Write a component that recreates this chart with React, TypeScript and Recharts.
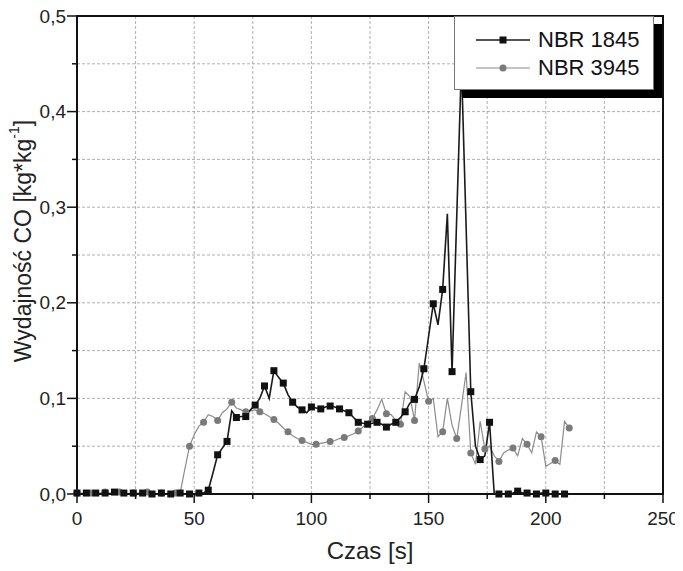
import { LineChart, Line, XAxis, YAxis, CartesianGrid, Legend, ReferenceArea } from 'recharts';

const FONT = '"Liberation Sans", Arial, sans-serif';

// czas [s], co 2 s
const czas = [
  0, 2, 4, 6, 8, 10, 12, 14, 16, 18, 20, 22, 24, 26, 28, 30, 32, 34, 36, 38,
  40, 42, 44, 46, 48, 50, 52, 54, 56, 58, 60, 62, 64, 66, 68, 70, 72, 74, 76, 78,
  80, 82, 84, 86, 88, 90, 92, 94, 96, 98, 100, 102, 104, 106, 108, 110, 112, 114, 116, 118,
  120, 122, 124, 126, 128, 130, 132, 134, 136, 138, 140, 142, 144, 146, 148, 150, 152, 154, 156, 158,
  160, 162, 164, 166, 168, 170, 172, 174, 176, 178, 180, 182, 184, 186, 188, 190, 192, 194, 196, 198,
  200, 202, 204, 206, 208, 210,
];

const nbr1845 = [
  0.001, 0, 0.001, 0, 0.001, 0, 0.001, 0, 0.002, 0.001, 0.001, 0, 0.001, 0, 0.001, 0.001, 0, 0, 0.001, 0,
  0, 0, 0.001, 0, 0, 0, 0.001, 0.001, 0.004, 0.022, 0.041, 0.048, 0.055, 0.087, 0.08, 0.081, 0.081, 0.088, 0.093, 0.1,
  0.113, 0.1, 0.129, 0.122, 0.116, 0.104, 0.096, 0.091, 0.088, 0.085, 0.091, 0.09, 0.089, 0.091, 0.092, 0.091, 0.089, 0.087, 0.085, 0.08,
  0.075, 0.074, 0.073, 0.074, 0.075, 0.073, 0.07, 0.073, 0.075, 0.08, 0.086, 0.095, 0.099, 0.112, 0.131, 0.165, 0.199, 0.177, 0.214, 0.293,
  0.128, 0.29, 0.45, 0.28, 0.107, 0.05, 0.036, 0.04, 0.075, 0, 0, 0, 0, 0.001, 0.003, 0.001, 0.001, 0, 0, 0.001,
  0.001, 0, 0, 0, 0, null,
];

const nbr3945 = [
  0.001, 0.001, 0, 0.001, 0, 0.001, 0.002, 0.001, 0, 0.002, 0.001, 0, 0.001, 0.001, 0, 0.002, 0.001, 0, 0.001, 0,
  0, 0.001, 0.001, 0.026, 0.05, 0.062, 0.071, 0.075, 0.083, 0.081, 0.077, 0.085, 0.089, 0.096, 0.09, 0.088, 0.086, 0.087, 0.088, 0.086,
  0.084, 0.081, 0.078, 0.074, 0.069, 0.065, 0.061, 0.058, 0.056, 0.054, 0.052, 0.052, 0.053, 0.054, 0.055, 0.056, 0.058, 0.059, 0.061, 0.063,
  0.066, 0.07, 0.076, 0.079, 0.088, 0.099, 0.084, 0.083, 0.077, 0.073, 0.107, 0.102, 0.077, 0.137, 0.118, 0.097, 0.1, 0.06, 0.065, 0.1,
  0.072, 0.058, 0.092, 0.127, 0.043, 0.031, 0.076, 0.047, 0.05, 0.04, 0.034, 0.043, 0.046, 0.048, 0.04, 0.058, 0.052, 0.043, 0.065, 0.06,
  0.029, 0.032, 0.035, 0.031, 0.076, 0.069,
];

const xTicks = [0, 25, 50, 75, 100, 125, 150, 175, 200, 225, 250];
const yTicks = [0, 0.05, 0.1, 0.15, 0.2, 0.25, 0.3, 0.35, 0.4, 0.45, 0.5];

const data = czas.map((t, i) => ({ t, nbr1845: nbr1845[i], nbr3945: nbr3945[i] }));

const XTick = (props: any) => {
  const { x, y, payload } = props;
  const major = payload.value % 50 === 0;
  return (
    <g>
      <line x1={x} x2={x} y1={y} y2={y + (major ? 9 : 5)} stroke="#111" strokeWidth={1.5} />
      {major && (
        <text x={x} y={y + 24} textAnchor="middle" dominantBaseline="central" fontSize={19} fontFamily={FONT} fill="#222">
          {payload.value}
        </text>
      )}
    </g>
  );
};

const YTick = (props: any) => {
  const { x, y, payload } = props;
  const major = Math.round(payload.value * 20) % 2 === 0;
  return (
    <g>
      <line x1={x} x2={x - (major ? 10 : 5)} y1={y} y2={y} stroke="#111" strokeWidth={1.5} />
      {major && (
        <text x={x - 11} y={y} textAnchor="end" dominantBaseline="central" fontSize={19} fontFamily={FONT} fill="#222">
          {payload.value.toFixed(1).replace('.', ',')}
        </text>
      )}
    </g>
  );
};

const squareDot = (props: any) => {
  const { cx, cy, payload, index } = props;
  if (cy == null || payload.t % 4 !== 0) return <g key={`s${index}`} />;
  return <rect key={`s${index}`} x={cx - 3.5} y={cy - 3.5} width={7} height={7} fill="#111" />;
};

const circleDot = (props: any) => {
  const { cx, cy, payload, index } = props;
  if (cy == null || payload.t % 6 !== 0) return <g key={`c${index}`} />;
  return <circle key={`c${index}`} cx={cx} cy={cy} r={3.5} fill="#7a7a7a" />;
};

const renderLegend = (props: any) => (
  <div
    style={{
      boxSizing: 'border-box',
      width: 200,
      height: 74,
      background: '#fff',
      border: '1px solid #777',
      boxShadow: '8px 8px 0 #000',
      padding: '9px 0 0 21px',
      fontFamily: FONT,
      fontSize: 22,
      color: '#111',
    }}
  >
    {props.payload.map((entry: any) => (
      <div key={entry.value} style={{ display: 'flex', alignItems: 'center', height: 28 }}>
        <svg width={54} height={14}>
          <line x1={0} x2={54} y1={7} y2={7} stroke={entry.color} strokeWidth={entry.dataKey === 'nbr1845' ? 1.6 : 1.2} />
          {entry.dataKey === 'nbr1845' ? (
            <rect x={23.5} y={3.5} width={7} height={7} fill="#111" />
          ) : (
            <circle cx={27} cy={7} r={3.5} fill="#7a7a7a" />
          )}
        </svg>
        <span style={{ marginLeft: 8 }}>{entry.value}</span>
      </div>
    ))}
  </div>
);

const YLabel = (props: any) => {
  const { viewBox } = props;
  const x = viewBox.x + 23;
  const y = viewBox.y + viewBox.height / 2 - 14;
  return (
    <text x={x} y={y} transform={`rotate(-90, ${x}, ${y})`} textAnchor="middle" dominantBaseline="central" fontSize={23} fontFamily={FONT} fill="#222">
      <tspan>Wydajność CO [kg*kg</tspan>
      <tspan fontSize={14} dy={-9}>-1</tspan>
      <tspan dy={9}>]</tspan>
    </text>
  );
};

const XLabel = (props: any) => {
  const { viewBox } = props;
  return (
    <text x={viewBox.x + viewBox.width / 2} y={viewBox.y + 56} textAnchor="middle" dominantBaseline="central" fontSize={24} fontFamily={FONT} fill="#222">
      Czas [s]
    </text>
  );
};

export default function App() {
  return (
    <div style={{ margin: '-8px 0 0 -8px', width: 683, height: 571 }}>
      <LineChart width={683} height={571} data={data} margin={{ top: 16, right: 20, left: 0, bottom: 0 }}>
        <CartesianGrid stroke="#9a9a9a" strokeWidth={0.8} strokeDasharray="3 2" />
        <XAxis
          dataKey="t"
          type="number"
          domain={[0, 250]}
          ticks={xTicks}
          interval={0}
          height={77}
          tickSize={0}
          tickMargin={0}
          tickLine={false}
          tick={<XTick />}
          axisLine={{ stroke: '#111', strokeWidth: 2 }}
          label={<XLabel />}
        />
        <YAxis
          type="number"
          domain={[0, 0.5]}
          ticks={yTicks}
          interval={0}
          width={77}
          tickSize={0}
          tickMargin={0}
          tickLine={false}
          tick={<YTick />}
          axisLine={{ stroke: '#111', strokeWidth: 2 }}
          label={<YLabel />}
        />
        <ReferenceArea x1={0} x2={250} y1={0} y2={0.5} fill="none" stroke="#111" strokeWidth={2} />
        <Line
          type="linear"
          dataKey="nbr3945"
          name="NBR 3945"
          stroke="#8c8c8c"
          strokeWidth={1.2}
          dot={circleDot}
          activeDot={false}
          isAnimationActive={false}
        />
        <Line
          type="linear"
          dataKey="nbr1845"
          name="NBR 1845"
          stroke="#1a1a1a"
          strokeWidth={1.6}
          dot={squareDot}
          activeDot={false}
          isAnimationActive={false}
        />
        <Legend
          layout="horizontal"
          align="center"
          verticalAlign="middle"
          content={renderLegend}
          itemSorter={(item: any) => (item.dataKey === 'nbr1845' ? 0 : 1)}
          wrapperStyle={{ left: 454, top: 16, width: 200, height: 74 }}
        />
      </LineChart>
    </div>
  );
}
